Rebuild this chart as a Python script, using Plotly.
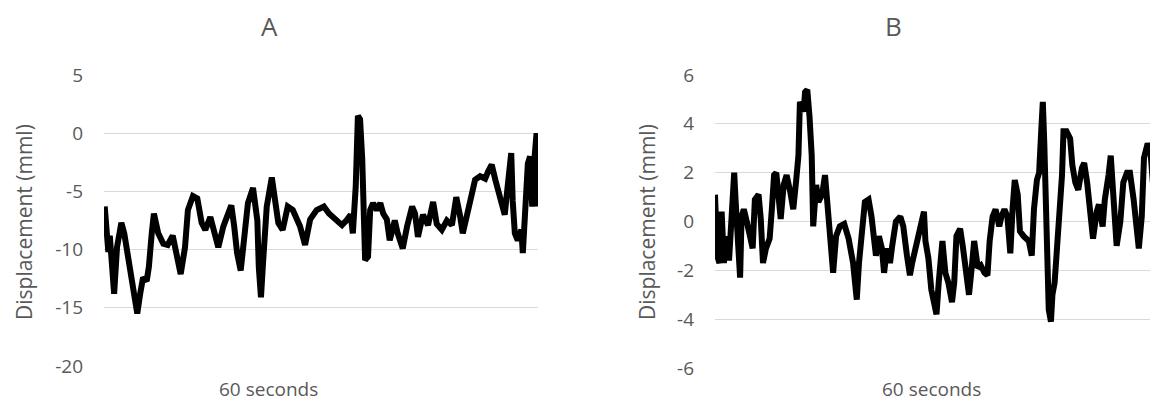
import plotly.graph_objects as go

# ---------------- data ----------------
time_a = [0.1, 0.3, 0.6, 0.8, 1.1, 1.4, 1.8, 2.1, 2.4, 2.8, 3.2, 3.9, 4.6, 5.0, 5.4, 5.9, 6.2, 6.6, 6.9, 7.5,
          8.2, 8.8, 9.5, 10.1, 10.6, 11.2, 11.6, 12.3, 12.9, 13.5, 14.0, 14.7, 15.3, 15.8, 16.5, 17.0, 17.6, 18.0,
          18.4, 18.9, 19.4, 19.9, 20.6, 21.2, 21.4, 21.7, 22.0, 22.5, 23.2, 23.6, 24.1, 24.7, 25.4, 26.1, 27.1,
          27.8, 28.5, 29.4, 30.4, 31.1, 31.9, 32.9, 33.5, 34.1, 34.4, 34.8, 35.1, 35.4, 35.7, 35.8, 36.1, 36.5,
          36.8, 37.2, 37.7, 38.2, 38.6, 39.1, 39.5, 40.0, 40.2, 40.6, 41.3, 41.9, 42.6, 43.0, 43.4, 44.1, 44.8,
          45.5, 46.0, 46.7, 47.4, 48.1, 48.7, 49.2, 49.6, 50.2, 50.9, 51.3, 52.0, 52.7, 53.1, 53.6, 54.1, 54.5,
          55.0, 55.4, 55.9, 56.3, 56.5, 56.8, 57.2, 57.7, 57.9, 58.2, 58.6, 58.9, 59.2, 59.4, 59.8, 59.9]
disp_a = [-6.3, -7.5, -10.2, -8.8, -11.0, -13.8, -9.8, -8.2, -7.7, -8.6, -10.3, -12.6, -15.5, -13.8, -12.4, -12.7,
          -11.5, -8.6, -6.9, -8.6, -9.5, -9.6, -8.8, -10.6, -12.1, -9.8, -6.6, -5.4, -5.6, -7.7, -8.3, -7.2, -8.6,
          -9.8, -8.0, -7.2, -6.2, -8.0, -10.3, -11.8, -8.6, -6.0, -4.7, -7.5, -11.5, -14.1, -11.0, -6.3, -3.8, -5.4,
          -7.7, -8.3, -6.3, -6.6, -8.0, -9.6, -7.4, -6.6, -6.3, -6.9, -7.3, -7.9, -7.5, -7.0, -8.6, -4.6, 1.5, 1.2,
          -2.2, -6.5, -10.9, -10.6, -6.6, -6.0, -6.6, -6.0, -6.9, -7.4, -9.2, -8.0, -7.5, -8.6, -9.9, -8.0, -6.3,
          -6.9, -8.9, -7.0, -7.9, -5.9, -7.8, -8.3, -7.5, -7.9, -5.5, -7.0, -8.6, -7.0, -5.2, -4.0, -3.7, -3.9, -3.3,
          -2.7, -4.0, -4.9, -6.3, -7.0, -4.0, -1.7, -5.8, -8.6, -9.2, -8.3, -10.3, -6.9, -2.6, -2.0, -6.3, -3.0,
          0.0, -6.3]

time_b = [0.0, 0.2, 0.3, 0.6, 0.9, 1.2, 1.6, 1.9, 2.3, 2.6, 2.8, 3.2, 3.4, 3.6, 3.9, 4.3, 4.6, 5.1, 5.4, 5.9,
          6.2, 6.5, 6.9, 7.4, 7.7, 8.0, 8.3, 8.6, 8.9, 9.3, 9.7, 10.2, 10.6, 11.0, 11.3, 11.5, 12.0, 12.2, 12.5,
          12.8, 13.1, 13.3, 13.7, 14.0, 14.5, 14.9, 15.2, 15.6, 16.0, 16.4, 16.9, 17.5, 18.1, 18.7, 19.2, 19.5,
          19.9, 20.3, 20.8, 21.2, 21.8, 22.2, 22.6, 22.9, 23.3, 23.7, 24.0, 24.5, 25.1, 25.5, 26.0, 26.4, 26.7,
          27.2, 27.6, 28.0, 28.3, 28.5, 28.9, 29.3, 29.7, 30.0, 30.3, 30.8, 31.2, 31.6, 32.1, 32.4, 32.7, 33.2,
          33.6, 34.1, 34.4, 34.8, 35.1, 35.6, 36.0, 36.5, 36.9, 37.2, 37.6, 38.0, 38.5, 38.8, 39.2, 39.6, 40.0,
          40.3, 40.6, 41.0, 41.3, 41.8, 42.1, 42.5, 42.9, 43.2, 43.6, 43.9, 44.2, 44.4, 44.6, 44.8, 44.9, 45.2,
          45.5, 45.7, 46.0, 46.4, 46.7, 47.0, 47.2, 47.6, 48.1, 48.4, 48.8, 49.2, 49.7, 50.0, 50.4, 50.8, 51.2,
          51.7, 52.0, 52.5, 52.8, 53.3, 53.6, 53.9, 54.4, 54.9, 55.3, 55.8, 56.2, 56.7, 57.1, 57.4, 57.8, 58.1,
          58.6, 59.0, 59.3, 59.5, 59.9]
disp_b = [1.1, -0.5, -1.4, -1.7, 0.4, -1.7, -0.6, -1.6, 0.8, 2.0, 0.8, -1.3, -2.3, 0.2, 0.5, 0.0, -0.4, -1.1, 0.9,
          1.1, 0.1, -1.7, -1.1, -0.7, 0.5, 1.9, 2.0, 0.8, 0.1, 1.5, 1.9, 1.2, 0.5, 1.7, 2.7, 4.9, 4.5, 5.3, 5.4, 4.3,
          2.7, -0.2, 1.5, 0.8, 1.1, 1.9, 0.8, -1.0, -2.1, -0.6, -0.2, -0.1, -0.7, -1.7, -3.2, -1.7, -0.3, 0.8, 0.9,
          0.2, -1.4, -0.6, -1.1, -2.1, -1.1, -1.7, -1.0, 0.0, 0.2, -0.2, -1.4, -2.2, -1.7, -1.0, -0.4, 0.1, 0.4,
          -0.8, -1.5, -2.8, -3.4, -3.8, -2.5, -0.8, -2.1, -2.5, -3.3, -2.5, -0.6, -0.3, -1.1, -2.2, -3.0, -1.8,
          -0.8, -1.9, -1.8, -2.1, -2.2, -0.8, 0.2, 0.5, -0.2, 0.2, 0.5, 0.2, -1.3, 0.5, 1.7, 1.1, -0.4, -0.6, -0.7,
          -0.8, -1.4, 0.5, 1.7, 2.0, 3.8, 4.9, 3.2, 0.8, -2.2, -3.6, -4.1, -3.0, -2.5, -0.8, 0.1, 1.9, 3.7, 3.7,
          3.4, 2.3, 1.6, 1.3, 2.2, 2.4, 1.6, 0.5, -0.7, 0.4, 0.7, -0.2, 0.9, 1.9, 2.7, 1.3, -1.0, 0.0, 1.6, 2.0,
          2.0, 0.9, -0.3, -1.1, 0.2, 2.6, 3.2, 2.8, 1.6, 1.9, 0.8]

ticks_a = [5, 0, -5, -10, -15, -20]
ticks_b = [6, 4, 2, 0, -2, -4, -6]
titles = ["A", "B"]
y_title = "Displacement (mml)"
x_title = "60 seconds"

# ---------------- figure ----------------
OFF = 8                      # page body margin
W, H = 1158 - OFF, 402 - OFF
GRAY = "#595959"
FONT = "Open Sans, Segoe UI, DejaVu Sans, sans-serif"


def px(x):
    return (x - OFF) / W


def py(y):
    return 1 - (y - OFF) / H


fig = go.Figure()
fig.add_trace(go.Scatter(x=time_a, y=disp_a, mode="lines", xaxis="x", yaxis="y",
                         line=dict(color="black", width=6), showlegend=False, hoverinfo="skip"))
fig.add_trace(go.Scatter(x=time_b, y=disp_b, mode="lines", xaxis="x2", yaxis="y2",
                         line=dict(color="black", width=6), showlegend=False, hoverinfo="skip"))

xcommon = dict(range=[0, 60], showgrid=False, zeroline=False, showticklabels=False,
               showline=False, fixedrange=True, automargin=False)
ycommon = dict(showgrid=True, gridcolor="#d9d9d9", gridwidth=1, zeroline=False, showline=False,
               ticks="", tickfont=dict(family=FONT, size=19, color=GRAY), ticklabelstandoff=20,
               fixedrange=True, automargin=False)

fig.update_layout(
    width=W, height=H,
    margin=dict(l=0, r=0, t=0, b=0, autoexpand=False),
    paper_bgcolor="white", plot_bgcolor="white",
    xaxis=dict(domain=[px(104), px(538)], anchor="y", **xcommon),
    yaxis=dict(domain=[py(366), py(75)], anchor="x", range=[-20, 5],
               tickvals=ticks_a, ticktext=[str(v) for v in ticks_a], **ycommon),
    xaxis2=dict(domain=[px(715), 1.0], anchor="y2", **xcommon),
    yaxis2=dict(domain=[py(368), py(75)], anchor="x2", range=[-6, 6],
                tickvals=ticks_b, ticktext=[str(v) for v in ticks_b], **ycommon),
)

ann = []
for cx, t in zip([269, 893], titles):
    ann.append(dict(x=px(cx), y=py(26), xref="paper", yref="paper", text=t, showarrow=False,
                    xanchor="center", yanchor="middle", borderpad=0,
                    font=dict(family=FONT, size=26, color=GRAY)))
for cx in [268, 931]:
    ann.append(dict(x=px(cx), y=py(389), xref="paper", yref="paper", text=x_title, showarrow=False,
                    xanchor="center", yanchor="middle", borderpad=0,
                    font=dict(family=FONT, size=19, color=GRAY)))
for cx in [24, 647]:
    ann.append(dict(x=px(cx), y=py(222), xref="paper", yref="paper", text=y_title, showarrow=False,
                    textangle=-90, xanchor="center", yanchor="middle", borderpad=0,
                    font=dict(family=FONT, size=21, color=GRAY)))
fig.update_layout(annotations=ann)

fig.write_html("out.html")
